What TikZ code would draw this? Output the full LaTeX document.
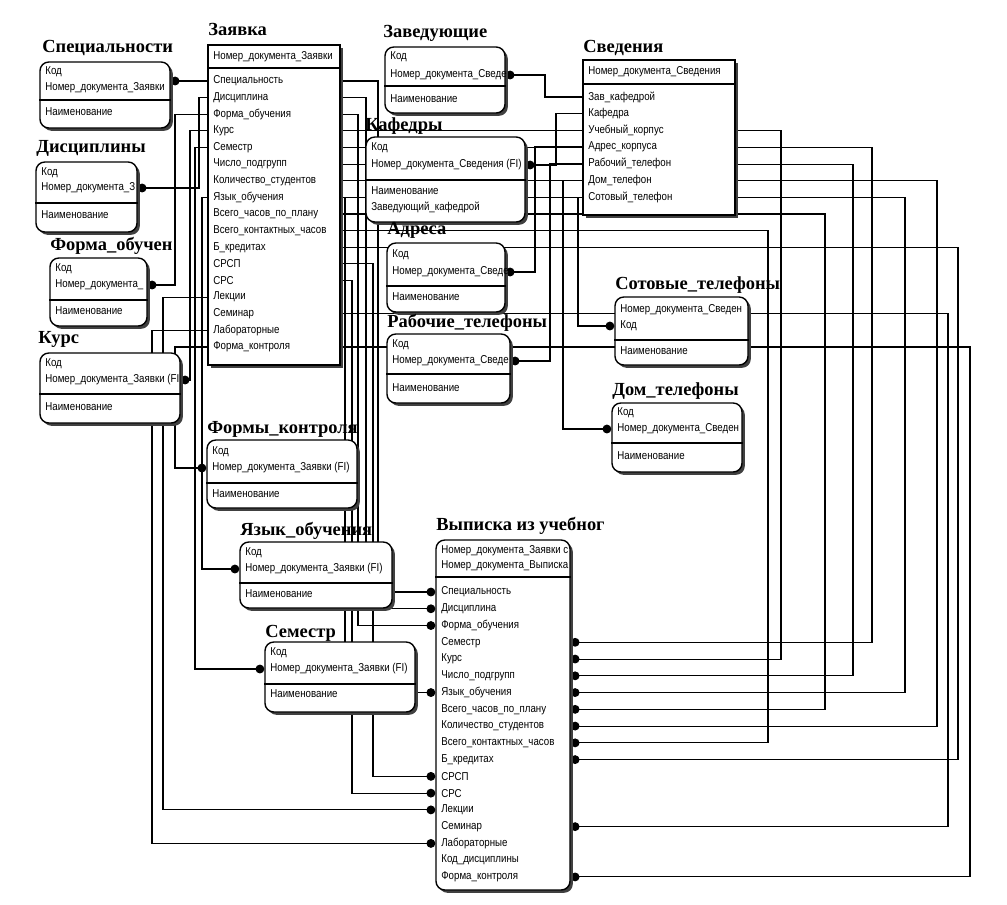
\documentclass[tikz,border=0pt]{standalone}
\usepackage{fontspec}
\setmainfont{Liberation Serif}
\newfontfamily\attrfont[FakeStretch=0.85]{Liberation Sans}
\usetikzlibrary{positioning,arrows.meta,calc,fit,shadows,backgrounds}

\tikzset{
  ent/.style={draw, line width=0.8pt, fill=white, inner sep=0pt, rounded corners=5pt,
    drop shadow={shadow xshift=1.6pt, shadow yshift=-1.6pt, fill=black!75, opacity=1}},
  indep/.style={ent, sharp corners},
  ttl/.style={anchor=base west, inner sep=0pt, font=\bfseries\fontsize{10.5}{12}\selectfont},
  attr/.style={anchor=west, inner sep=0pt, font=\attrfont\fontsize{6.5}{7}\selectfont},
  divline/.style={line width=0.8pt},
  rel/.style={line width=0.6pt, -{Circle[length=5pt]}},
}

\begin{document}
\begin{tikzpicture}[x=0.02cm, y=-0.02cm]
  \useasboundingbox (0,0) rectangle (1007,904);

  % Заявка
  \node[indep, fit={(208,45) (340,365)}] (zay) {};
  \node[ttl] (tzay) at (208,35) {Заявка};
  \node[attr] (zk) at (213,57) {Номер\_документа\_Заявки};
  \draw[divline] (zay.west |- 0,68) -- (zay.east |- 0,68);
  \foreach \t [count=\i] in {Специальность, Дисциплина, Форма\_обучения, Курс, Семестр,
      Число\_подгрупп, Количество\_студентов, Язык\_обучения, Всего\_часов\_по\_плану,
      Всего\_контактных\_часов, Б\_кредитах, СРСП, СРС, Лекции, Семинар, Лабораторные,
      Форма\_контроля}
    \node[attr] (z\i) at (213,{81+(\i-1)*16.625}) {\t};

  % Специальности
  \node[ent, fit={(40,62) (170,128)}] (spec) {};
  \node[ttl] (tspec) at (42,52) {Специальности};
  \node[attr] (spec1) at (45,72) {Код};
  \node[attr] (spec2) at (45,88) {Номер\_документа\_Заявки};
  \node[attr] (spec3) at (45,112) {Наименование};
  \draw[divline] (spec.west |- 0,100) -- (spec.east |- 0,100);

  % Дисциплины
  \node[ent, fit={(36,162) (137,232)}] (disc) {};
  \node[ttl] (tdisc) at (36,152) {Дисциплины};
  \node[attr] (disc1) at (41,173) {Код};
  \node[attr] (disc2) at (41,188) {Номер\_документа\_З};
  \node[attr] (disc3) at (41,215) {Наименование};
  \draw[divline] (disc.west |- 0,203) -- (disc.east |- 0,203);

  % Форма обучения
  \node[ent, fit={(50,258) (147,326)}] (form) {};
  \node[ttl] (tform) at (50,250) {Форма\_обучен};
  \node[attr] (form1) at (55,269) {Код};
  \node[attr] (form2) at (55,285) {Номер\_документа\_};
  \node[attr] (form3) at (55,311) {Наименование};
  \draw[divline] (form.west |- 0,300) -- (form.east |- 0,300);

  % Курс
  \node[ent, fit={(40,353) (180,423)}] (kurs) {};
  \node[ttl] (tkurs) at (38,343) {Курс};
  \node[attr] (kurs1) at (45,364) {Код};
  \node[attr] (kurs2) at (45,380) {Номер\_документа\_Заявки (FI};
  \node[attr] (kurs3) at (45,407) {Наименование};
  \draw[divline] (kurs.west |- 0,394) -- (kurs.east |- 0,394);

  % Заведующие
  \node[ent, fit={(385,47) (505,113)}] (zav) {};
  \node[ttl] (tzav) at (383,37) {Заведующие};
  \node[attr] (zav1) at (390,57) {Код};
  \node[attr] (zav2) at (390,75) {Номер\_документа\_Сведе};
  \node[attr] (zav3) at (390,99) {Наименование};
  \draw[divline] (zav.west |- 0,86) -- (zav.east |- 0,86);

  % Сведения
  \node[indep, fit={(583,60) (735,215)}] (sved) {};
  \node[ttl] (tsved) at (583,52) {Сведения};
  \node[attr] (sk) at (588,72) {Номер\_документа\_Сведения};
  \draw[divline] (sved.west |- 0,84) -- (sved.east |- 0,84);
  \foreach \t [count=\i] in {Зав\_кафедрой, Кафедра, Учебный\_корпус, Адрес\_корпуса,
      Рабочий\_телефон, Дом\_телефон, Сотовый\_телефон}
    \node[attr] (s\i) at (588,{97+(\i-1)*16.67}) {\t};

  % Кафедры
  \node[ent, fit={(366,137) (525,222)}] (kaf) {};
  \node[ttl] (tkaf) at (365,130) {Кафедры};
  \node[attr] (kaf1) at (371,148) {Код};
  \node[attr] (kaf2) at (371,165) {Номер\_документа\_Сведения (FI)};
  \node[attr] (kaf3) at (371,191) {Наименование};
  \node[attr] (kaf4) at (371,207) {Заведующий\_кафедрой};
  \draw[divline] (kaf.west |- 0,180) -- (kaf.east |- 0,180);

  % Адреса
  \node[ent, fit={(387,243) (505,312)}] (adr) {};
  \node[ttl] (tadr) at (387,234) {Адреса};
  \node[attr] (adr1) at (392,255) {Код};
  \node[attr] (adr2) at (392,272) {Номер\_документа\_Сведе};
  \node[attr] (adr3) at (392,297) {Наименование};
  \draw[divline] (adr.west |- 0,286) -- (adr.east |- 0,286);

  % Рабочие телефоны
  \node[ent, fit={(387,334) (510,403)}] (rab) {};
  \node[ttl] (trab) at (387,327) {Рабочие\_телефоны};
  \node[attr] (rab1) at (392,345) {Код};
  \node[attr] (rab2) at (392,361) {Номер\_документа\_Сведе};
  \node[attr] (rab3) at (392,388) {Наименование};
  \draw[divline] (rab.west |- 0,374) -- (rab.east |- 0,374);

  % Сотовые телефоны
  \node[ent, fit={(615,297) (748,365)}] (sot) {};
  \node[ttl] (tsot) at (615,289) {Сотовые\_телефоны};
  \node[attr] (sot1) at (620,310) {Номер\_документа\_Сведен};
  \node[attr] (sot2) at (620,326) {Код};
  \node[attr] (sot3) at (620,351) {Наименование};
  \draw[divline] (sot.west |- 0,340) -- (sot.east |- 0,340);

  % Дом телефоны
  \node[ent, fit={(612,403) (742,472)}] (dom) {};
  \node[ttl] (tdom) at (612,395) {Дом\_телефоны};
  \node[attr] (dom1) at (617,413) {Код};
  \node[attr] (dom2) at (617,429) {Номер\_документа\_Сведен};
  \node[attr] (dom3) at (617,456) {Наименование};
  \draw[divline] (dom.west |- 0,443) -- (dom.east |- 0,443);

  % Формы контроля
  \node[ent, fit={(207,440) (357,508)}] (fk) {};
  \node[ttl] (tfk) at (207,433) {Формы\_контроля};
  \node[attr] (fk1) at (212,452) {Код};
  \node[attr] (fk2) at (212,468) {Номер\_документа\_Заявки (FI)};
  \node[attr] (fk3) at (212,494) {Наименование};
  \draw[divline] (fk.west |- 0,483) -- (fk.east |- 0,483);

  % Язык обучения
  \node[ent, fit={(240,542) (392,608)}] (yaz) {};
  \node[ttl] (tyaz) at (240,535) {Язык\_обучения};
  \node[attr] (yaz1) at (245,553) {Код};
  \node[attr] (yaz2) at (245,569) {Номер\_документа\_Заявки (FI)};
  \node[attr] (yaz3) at (245,594) {Наименование};
  \draw[divline] (yaz.west |- 0,583) -- (yaz.east |- 0,583);

  % Семестр
  \node[ent, fit={(265,642) (415,712)}] (sem) {};
  \node[ttl] (tsem) at (265,637) {Семестр};
  \node[attr] (sem1) at (270,653) {Код};
  \node[attr] (sem2) at (270,669) {Номер\_документа\_Заявки (FI)};
  \node[attr] (sem3) at (270,694) {Наименование};
  \draw[divline] (sem.west |- 0,684) -- (sem.east |- 0,684);

  % Выписка из учебного плана
  \node[ent, fit={(436,540) (570,890)}] (vyp) {};
  \node[ttl] (tvyp) at (436,530) {Выписка из учебног};
  \node[attr] (vk1) at (441,551) {Номер\_документа\_Заявки с};
  \node[attr] (vk2) at (441,566) {Номер\_документа\_Выписка};
  \draw[divline] (vyp.west |- 0,577) -- (vyp.east |- 0,577);
  \foreach \t [count=\i] in {Специальность, Дисциплина, Форма\_обучения, Семестр, Курс,
      Число\_подгрупп, Язык\_обучения, Всего\_часов\_по\_плану, Количество\_студентов,
      Всего\_контактных\_часов, Б\_кредитах, СРСП, СРС, Лекции, Семинар, Лабораторные,
      Код\_дисциплины, Форма\_контроля}
    \node[attr] (v\i) at (441,{592+(\i-1)*16.76}) {\t};

  \begin{pgfonlayer}{background}
    % Заявка, left side
    \draw[rel] (z1 -| zay.west) -- (z1 -| spec.east);
    \draw[rel] (z2 -| zay.west) -- (z2 -| 199,0) |- (disc2 -| disc.east);
    \draw[rel] (z3 -| zay.west) -- (z3 -| 175,0) |- (form2 -| form.east);
    \draw[rel] (z4 -| zay.west) -- (z4 -| 190,0) |- (kurs2 -| kurs.east);
    \draw[rel] (z5 -| zay.west) -- (z5 -| 195,0) |- (sem2 -| sem.west);
    \draw[rel] (z8 -| zay.west) -- (z8 -| 202,0) |- (yaz2 -| yaz.west);
    \draw[rel] (z17 -| zay.west) -- (z17 -| 175,0) |- (fk2 -| fk.west);
    \draw[rel] (z14 -| zay.west) -- (z14 -| 163,0) |- (v14 -| vyp.west);
    \draw[rel] (z16 -| zay.west) -- (z16 -| 152,0) |- (v16 -| vyp.west);
    % Заявка, right side down to Выписка
    \draw[rel] (z1 -| zay.east) -- (z1 -| 378,0) |- (v1 -| vyp.west);
    \draw[rel] (z2 -| zay.east) -- (z2 -| 366,0) |- (v2 -| vyp.west);
    \draw[rel] (z3 -| zay.east) -- (z3 -| 358,0) |- (v3 -| vyp.west);
    \draw[rel] (z8 -| zay.east) -- (z8 -| 345,0) |- (v7 -| vyp.west);
    \draw[rel] (z12 -| zay.east) -- (z12 -| 373,0) |- (v12 -| vyp.west);
    \draw[rel] (z13 -| zay.east) -- (z13 -| 352,0) |- (v13 -| vyp.west);
    % far right
    \draw[rel] (z5 -| zay.east) -- (z5 -| 872,0) |- (v4 -| vyp.east);
    \draw[rel] (z4 -| zay.east) -- (z4 -| 781,0) |- (v5 -| vyp.east);
    \draw[rel] (z9 -| zay.east) -- (z9 -| 825,0) |- (v8 -| vyp.east);
    \draw[rel] (z6 -| zay.east) -- (z6 -| 853,0) |- (v6 -| vyp.east);
    \draw[rel] (z8 -| zay.east) -- (z8 -| 905,0) |- (v7 -| vyp.east);
    \draw[rel] (z7 -| zay.east) -- (z7 -| 937,0) |- (v9 -| vyp.east);
    \draw[rel] (z10 -| zay.east) -- (z10 -| 768,0) |- (v10 -| vyp.east);
    \draw[rel] (z11 -| zay.east) -- (z11 -| 958,0) |- (v11 -| vyp.east);
    \draw[rel] (z15 -| zay.east) -- (z15 -| 948,0) |- (v15 -| vyp.east);
    \draw[rel] (z17 -| zay.east) -- (z17 -| 970,0) |- (v18 -| vyp.east);
    % Сведения
    \draw[rel] (s1 -| sved.west) -- (s1 -| 545,0) |- (zav2 -| zav.east);
    \draw[rel] (s2 -| sved.west) -- (s2 -| 556,0) |- (kaf2 -| kaf.east);
    \draw[rel] (s4 -| sved.west) -- (s4 -| 535,0) |- (adr2 -| adr.east);
    \draw[rel] (s5 -| sved.west) -- (s5 -| 550,0) |- (rab2 -| rab.east);
    \draw[rel] (s6 -| sved.west) -- (s6 -| 563,0) |- (dom2 -| dom.west);
    \draw[rel] (s7 -| sved.west) -- (s7 -| 578,0) |- (sot2 -| sot.west);
  \end{pgfonlayer}
\end{tikzpicture}
\end{document}
